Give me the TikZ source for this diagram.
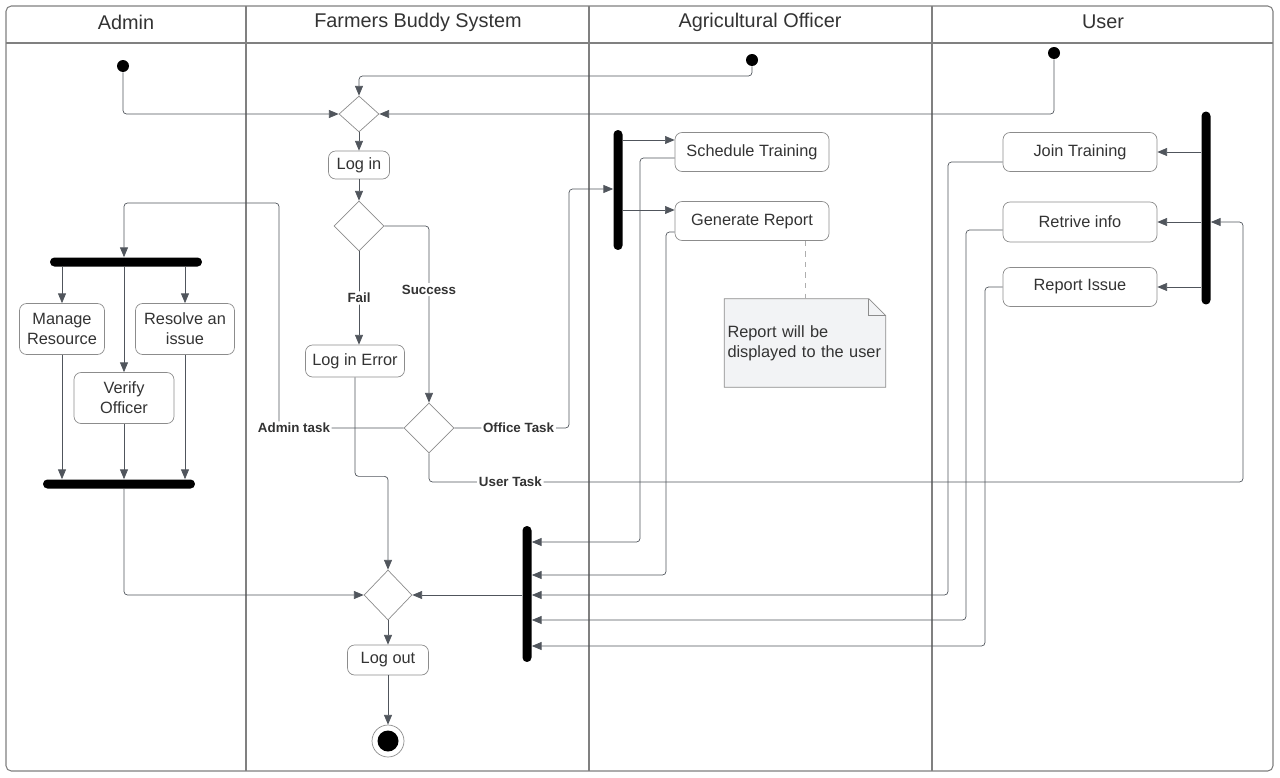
\documentclass[tikz,border=0pt]{standalone}
\usepackage{fontspec}
\setmainfont{Liberation Sans}
\usetikzlibrary{arrows.meta,calc,shapes.geometric,backgrounds}
\definecolor{ln}{HTML}{50555C}
\definecolor{bx}{HTML}{8C8C8C}
\definecolor{tx}{HTML}{333333}
\definecolor{notebg}{HTML}{F2F3F5}

\begin{document}
\begin{tikzpicture}[x=0.02cm,y=-0.02cm,
  every node/.style={text=tx},
  act/.style={draw=bx,rounded corners=4pt,inner sep=2pt,align=center,font=\fontsize{9.3}{11.3}\selectfont},
  dec/.style={draw=bx,diamond,inner sep=0pt},
  bar/.style={fill=black,rounded corners=2.5pt,inner sep=0pt},
  dot/.style={fill=black,circle,inner sep=0pt,minimum size=0.24cm},
  lbl/.style={fill=white,inner sep=1pt,font=\bfseries\fontsize{7.6}{9}\selectfont},
  flow/.style={draw=ln,rounded corners=2pt,-{Triangle[length=5.5pt,width=4.5pt]}},
  lane/.style={draw=gray,line width=0.6pt},
  hdr/.style={font=\fontsize{11.3}{13}\selectfont}]

\useasboundingbox (0,0) rectangle (1280,777);
\draw[lane,rounded corners=3pt] (6,6) rectangle (1273,771);
\draw[lane] (6,43) -- (1273,43);
\foreach \x in {246,589,932} \draw[lane] (\x,6) -- (\x,771);

\node[hdr] (h1) at (126,22) {Admin};
\node[hdr] (h2) at (418,22) {Farmers Buddy System};
\node[hdr] (h3) at (760,22) {Agricultural Officer};
\node[hdr] (h4) at (1103,22) {User};

\node[dot] (sa) at (123,66) {};
\node[dot] (so) at (752,60) {};
\node[dot] (su) at (1054,53) {};

\node[dec,minimum width=0.8cm,minimum height=0.72cm] (m1) at (359,114) {};
\node[act,minimum width=1.22cm,minimum height=0.56cm] (login) at (359,165) {Log in};
\node[dec,minimum width=1cm,minimum height=1cm] (d1) at (359,226) {};
\node[act,minimum width=1.98cm,minimum height=0.64cm] (lerr) at (355,361) {Log in Error};
\node[dec,minimum width=1cm,minimum height=1cm] (d2) at (429,428) {};
\node[dec,minimum width=0.96cm,minimum height=1cm] (m2) at (388,595) {};
\node[act,minimum width=1.62cm,minimum height=0.6cm] (logout) at (388,660) {Log out};
\node[circle,draw=bx,minimum size=0.64cm,inner sep=0pt] (fin) at (388,741) {};
\node[dot,minimum size=0.42cm] at (fin) {};

\node[bar,minimum width=3.04cm,minimum height=0.18cm] (fk1) at (126,262) {};
\node[act,minimum width=1.7cm,minimum height=1.02cm] (mng) at (62,329) {Manage\\Resource};
\node[act,minimum width=1.98cm,minimum height=1.02cm] (res) at (185,329) {Resolve an\\issue};
\node[act,minimum width=2cm,minimum height=1.02cm] (ver) at (124,398) {Verify\\Officer};
\node[bar,minimum width=3.04cm,minimum height=0.18cm] (jn1) at (119,484) {};

\node[bar,minimum width=0.18cm,minimum height=2.4cm] (fk2) at (618,190) {};
\node[act,minimum width=3.08cm,minimum height=0.78cm] (sch) at (752,152) {Schedule Training};
\node[act,minimum width=3.08cm,minimum height=0.78cm] (gen) at (752,221) {Generate Report};
\node[text width=3.1cm,align=left,inner xsep=0.06cm,minimum height=1.76cm,font=\fontsize{9.3}{11.3}\selectfont] (nt) at (805,343) {Report will be\\displayed to the user};
\node[bar,minimum width=0.18cm,minimum height=2.72cm] (jn2) at (527,594) {};

\node[bar,minimum width=0.18cm,minimum height=3.86cm] (fk3) at (1206,208) {};
\node[act,minimum width=3.08cm,minimum height=0.78cm] (jtr) at (1080,152) {Join Training};
\node[act,minimum width=3.08cm,minimum height=0.8cm] (rinf) at (1080,222) {Retrive info};
\node[act,minimum width=3.08cm,minimum height=0.78cm] (rep) at (1080,287) {Report Issue};

\begin{scope}[on background layer]
\filldraw[fill=notebg,draw=bx] (nt.north west) -- ($(nt.north east)+(-17,0)$) -- ($(nt.north east)+(0,17)$) -- (nt.south east) -- (nt.south west) -- cycle;
\end{scope}
\draw[bx] ($(nt.north east)+(-17,0)$) |- ($(nt.north east)+(0,17)$);
\draw[bx!70,dashed] (nt.north |- gen.south) -- (nt.north);

\coordinate (ta) at (279,203);
\coordinate (to) at (569,189);
\coordinate (tu) at (1243,482);

\draw[flow] (sa) |- (m1.west);
\draw[flow] (so) -- ++(0,16) -| (m1.north);
\draw[flow] (su) |- (m1.east);
\path (m1) edge[flow] (login) (login) edge[flow] (d1) (m2) edge[flow] (logout) (logout) edge[flow] (fin);

\draw[flow] (d1.south) -- node[lbl]{Fail} (d1.south |- lerr.north);
\draw[flow] (d1.east) -| node[lbl,pos=0.68]{Success} (d2.north);
\draw[flow] (d2.west) -- node[lbl,pos=0.88]{Admin task} (ta |- d2.west) -- (ta) -| (ver.north |- fk1.north);
\draw[flow] (d2.east) -| node[lbl,pos=0.28]{Office Task} (to) -- (to -| fk2.west);
\draw[flow] (d2.south) |- node[lbl,pos=0.55]{User Task} (tu) |- (fk3.east |- rinf.east);

\foreach \b in {mng,ver,res} {
  \draw[flow] (fk1.south -| \b.north) -- (\b.north);
  \draw[flow] (\b.south) -- (\b.south |- jn1.north);
}
\draw[flow] (jn1.south -| ver.south) |- (m2.west);
\draw[flow] (lerr.south) -- ++(0,99) -| (m2.north);
\draw[flow] (jn2.west |- m2.east) -- (m2.east);

\coordinate (si) at ($(sch.west)+(0,-12)$);
\coordinate (gi) at ($(gen.west)+(0,-11)$);
\draw[flow] (fk2.east |- si) -- (si);
\draw[flow] (fk2.east |- gi) -- (gi);
\draw[flow] ($(sch.west)+(0,6)$) -| (640,542) -- (jn2.east |- 0,542);
\draw[flow] ($(gen.west)+(0,11)$) -| (666,575) -- (jn2.east |- 0,575);

\foreach \b in {jtr,rinf,rep} \draw[flow] (fk3.west |- \b.east) -- (\b.east);
\draw[flow] ($(jtr.west)+(0,10)$) -| (948,595) -- (jn2.east |- 0,595);
\draw[flow] ($(rinf.west)+(0,8)$) -| (966,620) -- (jn2.east |- 0,620);
\draw[flow] (rep.west) -| (985,646) -- (jn2.east |- 0,646);

\end{tikzpicture}
\end{document}
